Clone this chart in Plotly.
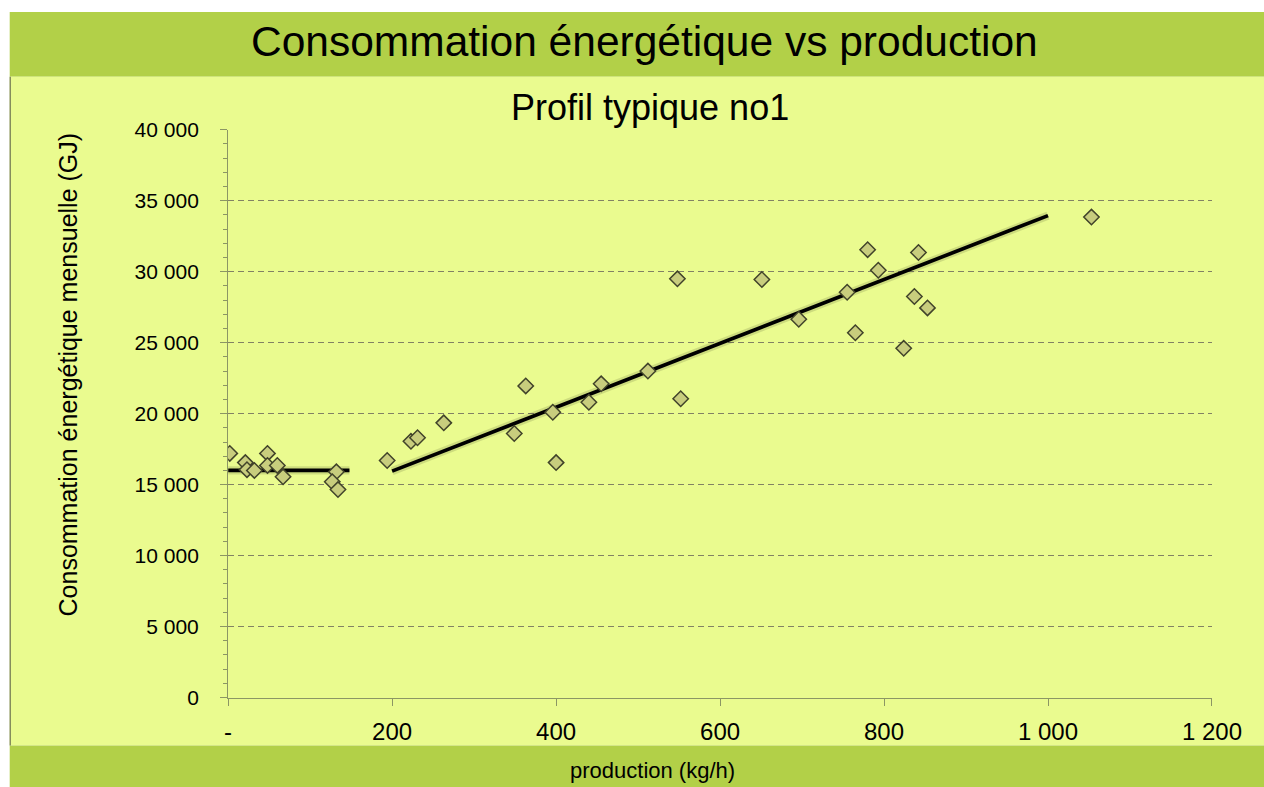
import plotly.graph_objects as go

# ---- data ----
production = [2, 21, 23, 32, 48, 48, 60, 67, 132, 127, 134, 194, 223, 231, 263,
              349, 363, 396, 400, 440, 455, 512, 552, 548, 651, 696, 755, 765,
              780, 793, 824, 837, 842, 853, 1053]
consumption = [17200, 16550, 16050, 16000, 17200, 16350, 16350, 15550, 15900,
               15200, 14650, 16700, 18050, 18300, 19350, 18600, 21950, 20100,
               16550, 20800, 22100, 23000, 21050, 29500, 29450, 26650, 28550,
               25700, 31550, 30100, 24600, 28250, 31350, 27450, 33850]

base_x = [0, 148]
base_y = [16000, 16000]
trend_x = [200, 1000]
trend_y = [15950, 33950]

x_tickvals = [0, 200, 400, 600, 800, 1000, 1200]
x_ticktext = ["-", "200", "400", "600", "800", "1 000", "1 200"]
y_tickvals = [0, 5000, 10000, 15000, 20000, 25000, 30000, 35000, 40000]
y_ticktext = ["0", "5 000", "10 000", "15 000", "20 000", "25 000", "30 000",
              "35 000", "40 000"]

title_text = "Consommation énergétique vs production"
subtitle_text = "Profil typique no1"
y_title = "Consommation énergétique mensuelle (GJ)"
x_title = "production (kg/h)"

# ---- geometry: target screen positions mapped to page positions ----
S, AX, AY = 0.972, 4.3, 12.2
W, H = 1300, 810
GREEN = "rgb(178,208,72)"
YELLOW = "rgb(234,251,143)"
AXIS = "rgb(140,150,100)"
FONT = "Liberation Sans, Arial, sans-serif"

def px(x):
    return max(0.0, (x - AX) / S) / W

def py(y):
    return 1 - max(0.0, (y - AY) / S) / H

def sz(v):
    return v / S

fig = go.Figure()

for xs, ys in ((base_x, base_y), (trend_x, trend_y)):
    fig.add_trace(go.Scatter(x=xs, y=ys, mode="lines",
                             line=dict(color="rgba(0,0,0,0.12)", width=sz(8)),
                             hoverinfo="skip", showlegend=False))
    fig.add_trace(go.Scatter(x=xs, y=ys, mode="lines",
                             line=dict(color="black", width=sz(3.6)),
                             showlegend=False))

fig.add_trace(go.Scatter(x=production, y=consumption, mode="markers",
                         marker=dict(symbol="diamond", size=sz(11.5),
                                     color="rgb(200,205,125)",
                                     line=dict(color="rgb(65,67,42)", width=1.5)),
                         showlegend=False))

shapes = [
    dict(type="rect", xref="paper", yref="paper", x0=px(10), x1=1, y0=py(77), y1=1,
         fillcolor=GREEN, line=dict(width=0), layer="below"),
    dict(type="rect", xref="paper", yref="paper", x0=px(10), x1=1, y0=py(746), y1=py(77),
         fillcolor=YELLOW, line=dict(width=0), layer="below"),
    dict(type="rect", xref="paper", yref="paper", x0=px(10), x1=1, y0=0, y1=py(746),
         fillcolor=GREEN, line=dict(width=0), layer="below"),
    dict(type="line", xref="paper", yref="paper", x0=px(10.5), x1=px(10.5), y0=py(746), y1=py(77),
         line=dict(color="rgb(110,115,80)", width=1.2), layer="below"),
]

annotations = [
    dict(text=title_text, x=px(644), y=py(42), xref="paper", yref="paper",
         showarrow=False, font=dict(family=FONT, size=42.5, color="black"),
         xanchor="center", yanchor="middle"),
    dict(text=subtitle_text, x=px(649), y=py(108), xref="paper", yref="paper",
         showarrow=False, font=dict(family=FONT, size=36, color="black"),
         xanchor="center", yanchor="middle"),
    dict(text=y_title, x=px(68), y=py(375), xref="paper", yref="paper",
         showarrow=False, textangle=-90, font=dict(family=FONT, size=25, color="black"),
         xanchor="center", yanchor="middle"),
    dict(text=x_title, x=px(652), y=py(771), xref="paper", yref="paper",
         showarrow=False, font=dict(family=FONT, size=22, color="black"),
         xanchor="center", yanchor="middle"),
]

fig.update_layout(
    width=W, height=H,
    margin=dict(l=0, r=0, t=0, b=0),
    paper_bgcolor="white",
    plot_bgcolor="rgba(0,0,0,0)",
    shapes=shapes,
    annotations=annotations,
    font=dict(family=FONT, color="black"),
    xaxis=dict(domain=[px(228), px(1210)], range=[0, 1200],
               tickvals=x_tickvals, ticktext=x_ticktext,
               tickfont=dict(size=24, color="black"),
               showgrid=False, zeroline=False,
               showline=True, linecolor=AXIS, linewidth=1.2,
               ticks="outside", ticklen=7, tickcolor=AXIS, tickwidth=1.2,
               ticklabelstandoff=6),
    yaxis=dict(domain=[py(698), py(130)], range=[0, 40000],
               tickvals=y_tickvals, ticktext=y_ticktext,
               tickfont=dict(size=21, color="black"),
               showgrid=True, gridcolor="rgb(130,130,100)", griddash="6px,4px", gridwidth=1,
               zeroline=False,
               showline=True, linecolor=AXIS, linewidth=1.2,
               ticks="outside", ticklen=7, tickcolor=AXIS, tickwidth=1.2,
               minor=dict(dtick=1000, ticks="outside", ticklen=4, tickcolor=AXIS,
                          showgrid=False),
               ticklabelstandoff=17),
)

fig.write_html("out.html", config={"displayModeBar": False},
               post_script="document.body.style.margin='0px';"
                           "document.documentElement.style.overflow='hidden';"
                           "document.body.style.overflow='hidden';")
